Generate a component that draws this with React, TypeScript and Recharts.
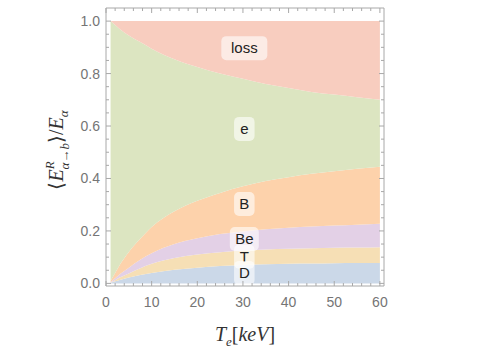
import { Area, AreaChart, ReferenceDot, XAxis, YAxis } from "recharts";

// electron temperature (keV)
const temps = [1, 2, 3, 5, 7.5, 10, 15, 20, 25, 30, 35, 40, 45, 50, 55, 60];

// fraction of alpha energy going to each channel
const dShare = [0.002, 0.008, 0.013, 0.022, 0.032, 0.04, 0.052, 0.06, 0.066, 0.07, 0.073, 0.075, 0.076, 0.077, 0.078, 0.078];
const tShare = [0.001, 0.004, 0.009, 0.016, 0.026, 0.035, 0.045, 0.05, 0.053, 0.055, 0.056, 0.057, 0.058, 0.059, 0.059, 0.06];
const beShare = [0.002, 0.008, 0.013, 0.022, 0.032, 0.04, 0.053, 0.062, 0.069, 0.073, 0.077, 0.08, 0.083, 0.085, 0.087, 0.089];
const bShare = [0.005, 0.02, 0.035, 0.06, 0.08, 0.1, 0.125, 0.143, 0.157, 0.172, 0.184, 0.193, 0.201, 0.207, 0.213, 0.218];
const eShare = [0.99, 0.945, 0.9, 0.825, 0.75, 0.68, 0.58, 0.51, 0.455, 0.41, 0.37, 0.34, 0.312, 0.292, 0.273, 0.255];
const lossShare = [0, 0.015, 0.03, 0.055, 0.08, 0.105, 0.145, 0.175, 0.2, 0.22, 0.24, 0.255, 0.27, 0.28, 0.29, 0.3];

const xTicks = [0, 2, 4, 6, 8, 10, 12, 14, 16, 18, 20, 22, 24, 26, 28, 30, 32, 34, 36, 38, 40, 42, 44, 46, 48, 50, 52, 54, 56, 58, 60];
const yTicks = [0, 0.05, 0.1, 0.15, 0.2, 0.25, 0.3, 0.35, 0.4, 0.45, 0.5, 0.55, 0.6, 0.65, 0.7, 0.75, 0.8, 0.85, 0.9, 0.95, 1];

const labelNames = ["loss", "e", "B", "Be", "T", "D"];
const labelY = [0.897, 0.589, 0.303, 0.169, 0.102, 0.04];
const labelX = 30.3;

const series = [
  { key: "D", values: dShare, color: "#cbd8e8" },
  { key: "T", values: tShare, color: "#f6dfb5" },
  { key: "Be", values: beShare, color: "#e3d0e6" },
  { key: "B", values: bShare, color: "#fdd2ab" },
  { key: "e", values: eShare, color: "#dce5c1" },
  { key: "loss", values: lossShare, color: "#f8cdbf" },
];

const data = temps.map((t, i) => {
  const row: Record<string, number> = { t };
  for (const s of series) row[s.key] = s.values[i];
  return row;
});

const frame = "#a8a8a8";
const tickFont = "Liberation Sans, Arial, sans-serif";
const xDomain = [0, 60.9];
const yDomain = [-0.01, 1.05];

const isMajorX = (v: number) => v % 10 === 0;
const isMajorY = (v: number) => Math.round(v * 100) % 20 === 0;

function BottomTick({ x, y, payload }: any) {
  const v = payload.value;
  const major = isMajorX(v);
  return (
    <g>
      <line x1={x} x2={x} y1={y} y2={y - (major ? 5 : 3)} stroke={frame} />
      {major && (
        <text x={x} y={y + 21} textAnchor="middle" fontFamily={tickFont} fontSize={14} fill="#757575">
          {v}
        </text>
      )}
    </g>
  );
}

function TopTick({ x, y, payload }: any) {
  const major = isMajorX(payload.value);
  return <line x1={x} x2={x} y1={y} y2={y + (major ? 5 : 3)} stroke={frame} />;
}

function LeftTick({ x, y, payload }: any) {
  const v = payload.value;
  const major = isMajorY(v);
  return (
    <g>
      <line x1={x} x2={x + (major ? 5 : 3)} y1={y} y2={y} stroke={frame} />
      {major && (
        <text x={x - 6} y={y + 5} textAnchor="end" fontFamily={tickFont} fontSize={14} fill="#757575">
          {v.toFixed(1)}
        </text>
      )}
    </g>
  );
}

function RightTick({ x, y, payload }: any) {
  const major = isMajorY(payload.value);
  return <line x1={x} x2={x - (major ? 5 : 3)} y1={y} y2={y} stroke={frame} />;
}

function LabelBox({ cx, cy, text }: { cx: number; cy: number; text: string }) {
  const w = text.length * 8.5 + 12;
  return (
    <g>
      <rect x={cx - w / 2} y={cy - 12} width={w} height={24} rx={5} fill="#ffffff" fillOpacity={0.6} />
      <text x={cx} y={cy + 5} textAnchor="middle" fontFamily={tickFont} fontSize={15} fill="#222">
        {text}
      </text>
    </g>
  );
}

export default function App() {
  return (
    <div style={{ position: "absolute", left: 0, top: 0 }}>
      <AreaChart width={485} height={360} data={data} margin={{ top: 7, right: 100, bottom: 44, left: 46 }}>
        <XAxis
          dataKey="t"
          type="number"
          domain={xDomain}
          allowDataOverflow
          ticks={xTicks}
          interval={0}
          height={30}
          tickSize={0}
          tickMargin={0}
          tickLine={false}
          axisLine={{ stroke: frame }}
          tick={<BottomTick />}
        />
        <XAxis
          xAxisId="top"
          dataKey="t"
          orientation="top"
          type="number"
          domain={xDomain}
          allowDataOverflow
          ticks={xTicks}
          interval={0}
          height={1}
          tickSize={0}
          tickMargin={0}
          tickLine={false}
          axisLine={{ stroke: frame }}
          tick={<TopTick />}
        />
        <YAxis
          type="number"
          domain={yDomain}
          allowDataOverflow
          ticks={yTicks}
          interval={0}
          width={60}
          tickSize={0}
          tickMargin={0}
          tickLine={false}
          axisLine={{ stroke: frame }}
          tick={<LeftTick />}
        />
        <YAxis
          yAxisId="right"
          orientation="right"
          type="number"
          domain={yDomain}
          allowDataOverflow
          ticks={yTicks}
          interval={0}
          width={1}
          tickSize={0}
          tickMargin={0}
          tickLine={false}
          axisLine={{ stroke: frame }}
          tick={<RightTick />}
        />
        {series.map((s) => (
          <Area
            key={s.key}
            dataKey={s.key}
            stackId="1"
            type="monotone"
            fill={s.color}
            fillOpacity={1}
            stroke="none"
            isAnimationActive={false}
          />
        ))}
        {/* invisible series so the mirrored frame axes get a scale */}
        <Area
          xAxisId="top"
          yAxisId="right"
          dataKey="D"
          type="monotone"
          fill="none"
          stroke="none"
          isAnimationActive={false}
        />
        {labelNames.map((name, i) => (
          <ReferenceDot
            key={name}
            x={labelX}
            y={labelY[i]}
            r={0}
            shape={(p: any) => <LabelBox cx={p.cx} cy={p.cy} text={name} />}
          />
        ))}
        <text transform="translate(63,150) rotate(-90)" textAnchor="middle" fontFamily="Liberation Serif, serif" fontSize={20} fill="#333">
          ⟨<tspan fontStyle="italic">E</tspan>
          <tspan fontSize={13} dy={-9} fontStyle="italic">R</tspan>
          <tspan fontSize={13} dx={-8} dy={15} fontStyle="italic">α→b</tspan>
          <tspan dy={-6}>⟩/</tspan>
          <tspan fontStyle="italic">E</tspan>
          <tspan fontSize={13} dy={5} fontStyle="italic">α</tspan>
        </text>
        <text x={245} y={341} textAnchor="middle" fontFamily="Liberation Serif, serif" fontSize={20} fill="#333">
          <tspan fontStyle="italic">T</tspan>
          <tspan fontSize={13} dy={5} fontStyle="italic">e</tspan>
          <tspan dy={-5}>[</tspan>
          <tspan fontStyle="italic">keV</tspan>
          <tspan>]</tspan>
        </text>
      </AreaChart>
    </div>
  );
}
